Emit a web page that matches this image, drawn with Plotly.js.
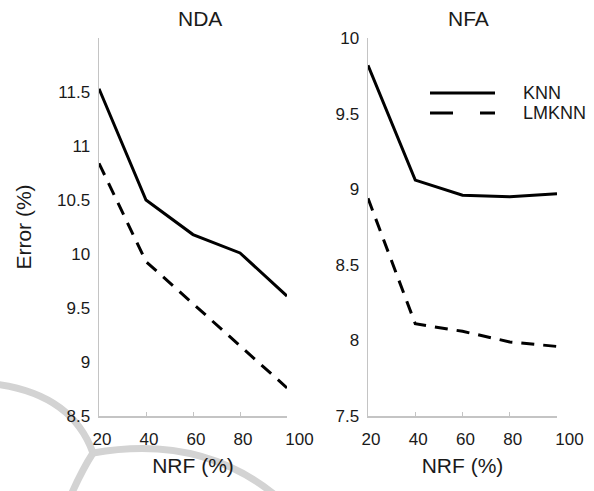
<!DOCTYPE html>
<html>
<head>
<meta charset="utf-8">
<script src="https://cdn.plot.ly/plotly-3.0.1.min.js"></script>
<style>html,body{margin:0;padding:0;background:#fff;}#chart{width:594px;height:491px;}</style>
</head>
<body>
<div id="chart"></div>
<script>
// ---- data ----
var nrf = [20, 40, 60, 80, 100];
var seriesNames = ["KNN", "LMKNN"];
var panelTitles = ["NDA", "NFA"];
var ndaKnn = [11.53, 10.50, 10.18, 10.01, 9.61];
var ndaLmknn = [10.84, 9.93, 9.54, 9.15, 8.76];
var nfaKnn = [9.82, 9.06, 8.96, 8.95, 8.97];
var nfaLmknn = [8.94, 8.11, 8.06, 7.99, 7.96];
var xTickVals = [20, 40, 60, 80, 100];
var xTickText = ["20", "40", "60", "80", "\u00a0\u00a0\u00a0\u00a0100"];
var ndaTickVals = [8.5, 9, 9.5, 10, 10.5, 11, 11.5];
var ndaTickText = ["8.5", "9", "9.5", "10", "10.5", "11", "11.5"];
var nfaTickVals = [7.5, 8, 8.5, 9, 9.5, 10];
var nfaTickText = ["7.5", "8", "8.5", "9", "9.5", "10"];
var xTitle = "NRF (%)";
var yTitle = "Error (%)";

var W = 594, H = 491;
function px(x) { return x / W; }
function py(y) { return 1 - y / H; }

var FONT = "Arial, 'Liberation Sans', sans-serif";
var solid = {color: "#000", width: 3};
var dashed = {color: "#000", width: 3, dash: "13px,9px"};

var traces = [
  {x: nrf, y: ndaKnn, name: seriesNames[0], mode: "lines", line: solid, xaxis: "x", yaxis: "y", showlegend: false},
  {x: nrf, y: ndaLmknn, name: seriesNames[1], mode: "lines", line: dashed, xaxis: "x", yaxis: "y", showlegend: false},
  {x: nrf, y: nfaKnn, name: seriesNames[0], mode: "lines", line: solid, xaxis: "x2", yaxis: "y2", showlegend: false},
  {x: nrf, y: nfaLmknn, name: seriesNames[1], mode: "lines", line: dashed, xaxis: "x2", yaxis: "y2", showlegend: false}
];

var tickFont = {family: FONT, size: 17, color: "#1a1a1a"};
var titleFont = {family: FONT, size: 21, color: "#1a1a1a"};
var axisLineColor = "#c4c4c4";

function xAxis(domain, anchor) {
  return {
    domain: domain, anchor: anchor, range: [20, 100],
    tickvals: xTickVals, ticktext: xTickText,
    ticks: "inside", ticklen: 4, tickcolor: axisLineColor, tickwidth: 1,
    showline: true, linecolor: axisLineColor, linewidth: 1.5,
    showgrid: false, zeroline: false, tickfont: tickFont,
    ticklabelstandoff: 7, ticklabelshift: 3,
    title: {text: xTitle, font: titleFont, standoff: 10}
  };
}
function yAxis(domain, anchor, range, vals, text, withTitle) {
  var a = {
    domain: domain, anchor: anchor, range: range,
    tickvals: vals, ticktext: text, ticks: "",
    showline: true, linecolor: axisLineColor, linewidth: 1.5,
    showgrid: false, zeroline: false, tickfont: tickFont,
    ticklabelstandoff: 4
  };
  if (withTitle) a.title = {text: yTitle, font: titleFont, standoff: 19};
  return a;
}

var yDom = [py(416), py(38)];
var layout = {
  width: W, height: H,
  margin: {l: 0, r: 0, t: 0, b: 0},
  paper_bgcolor: "#fff", plot_bgcolor: "rgba(0,0,0,0)",
  showlegend: false,
  xaxis: xAxis([px(99), px(287)], "y"),
  yaxis: yAxis(yDom, "x", [8.5, 12], ndaTickVals, ndaTickText, true),
  xaxis2: xAxis([px(368), px(557)], "y2"),
  yaxis2: yAxis(yDom, "x2", [7.5, 10], nfaTickVals, nfaTickText, false),
  annotations: [
    {text: panelTitles[0], xref: "paper", yref: "paper", x: px(200), y: py(18), showarrow: false, font: titleFont, xanchor: "center", yanchor: "middle"},
    {text: panelTitles[1], xref: "paper", yref: "paper", x: px(468), y: py(18), showarrow: false, font: titleFont, xanchor: "center", yanchor: "middle"},
    {text: seriesNames[0], xref: "paper", yref: "paper", x: px(521), y: py(93), showarrow: false, font: {family: FONT, size: 18, color: "#1a1a1a"}, xanchor: "left", yanchor: "middle"},
    {text: seriesNames[1], xref: "paper", yref: "paper", x: px(521), y: py(113), showarrow: false, font: {family: FONT, size: 18, color: "#1a1a1a"}, xanchor: "left", yanchor: "middle"}
  ],
  shapes: [
    // legend samples
    {type: "line", xref: "paper", yref: "paper", x0: px(430), x1: px(495), y0: py(93), y1: py(93), line: {color: "#000", width: 3}},
    {type: "line", xref: "paper", yref: "paper", x0: px(430), x1: px(495), y0: py(113), y1: py(113), line: {color: "#000", width: 3, dash: "23px,27px"}},
    // faint background watermark arcs
    {type: "path", xref: "paper", yref: "paper", layer: "below",
     path: "M " + px(-5) + "," + py(384) + " Q " + px(72) + "," + py(394) + " " + px(93) + "," + py(453),
     line: {color: "#d3d3d3", width: 7}},
    {type: "path", xref: "paper", yref: "paper", layer: "below",
     path: "M " + px(93) + "," + py(453) + " Q " + px(200) + "," + py(434) + " " + px(275) + "," + py(495),
     line: {color: "#d3d3d3", width: 7}},
    {type: "path", xref: "paper", yref: "paper", layer: "below",
     path: "M " + px(93) + "," + py(453) + " Q " + px(82) + "," + py(470) + " " + px(71) + "," + py(495),
     line: {color: "#d3d3d3", width: 7}}
  ]
};

Plotly.newPlot("chart", traces, layout, {staticPlot: true, displayModeBar: false});
</script>
</body>
</html>
